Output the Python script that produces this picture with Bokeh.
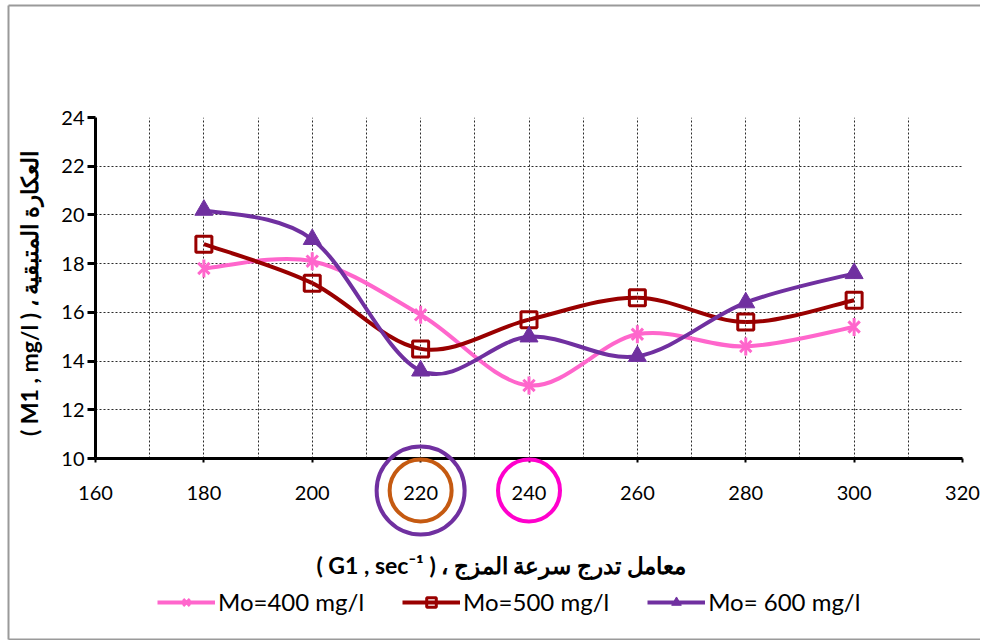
import math
from bokeh.plotting import figure
from bokeh.models import (LinearAxis, SingleIntervalTicker, Legend, LegendItem, Grid,
                          ColumnDataSource, Range1d, GridBox)
from bokeh.embed import file_html
from bokeh.resources import INLINE

# ---------------- data ----------------
g_values = [180, 200, 220, 240, 260, 280, 300]
mo400 = [17.8, 18.1, 15.9, 13.0, 15.1, 14.6, 15.4]
mo500 = [18.8, 17.2, 14.5, 15.7, 16.6, 15.6, 16.5]
mo600 = [20.2, 19.0, 13.6, 15.0, 14.2, 16.4, 17.6]
series_names = ["Mo=400 mg/l", "Mo=500 mg/l", "Mo= 600 mg/l"]
highlight_ticks = [220, 220, 240]

x_label = "( G1 , sec\u207b\u00b9 )   \u060c   معامل تدرج سرعة المزج" + "\u00a0" * 6
y_label = "( M1 , mg/l )  \u060c  العكارة المتبقية"

# ---------------- layout constants ----------------
W, H = 980, 640
BL, BR, BT, BB = 95, 18, 117, 182
X0, X1, Y0, Y1 = 160, 320, 10, 24


def smooth_segments(xs, ys):
    """Bezier control points (Catmull-Rom style) through the data points."""
    n = len(xs)
    px = [xs[0]] + list(xs) + [xs[-1]]
    py = [ys[0]] + list(ys) + [ys[-1]]
    d = dict(x0=[], y0=[], x1=[], y1=[], cx0=[], cy0=[], cx1=[], cy1=[])
    for i in range(n - 1):
        a, b, c, e = i, i + 1, i + 2, i + 3
        d["x0"].append(px[b]); d["y0"].append(py[b])
        d["x1"].append(px[c]); d["y1"].append(py[c])
        d["cx0"].append(px[b] + (px[c] - px[a]) / 6.0)
        d["cy0"].append(py[b] + (py[c] - py[a]) / 6.0)
        d["cx1"].append(px[c] - (px[e] - px[b]) / 6.0)
        d["cy1"].append(py[c] - (py[e] - py[b]) / 6.0)
    return ColumnDataSource(d)


p = figure(width=W, height=H, output_backend="svg", toolbar_location=None,
           x_range=Range1d(X0, X1), y_range=Range1d(Y0, Y1),
           x_axis_type=None, y_axis_type=None,
           min_border_left=BL, min_border_right=BR, min_border_top=BT, min_border_bottom=BB)
p.frame_align = False
p.outline_line_color = None
p.background_fill_color = "white"
p.border_fill_color = "white"

tick_font = "Lato"

xaxis = LinearAxis(ticker=SingleIntervalTicker(interval=20))
xaxis.axis_line_width = 3
xaxis.axis_line_color = "black"
xaxis.major_tick_line_width = 2
xaxis.major_tick_out = 4
xaxis.major_tick_in = 0
xaxis.minor_tick_line_color = None
xaxis.major_label_text_font = tick_font
xaxis.major_label_text_font_size = "20px"
xaxis.major_label_text_color = "black"
xaxis.major_label_standoff = 23
xaxis.axis_label = x_label
xaxis.axis_label_text_font = tick_font
xaxis.axis_label_text_font_style = "bold"
xaxis.axis_label_text_font_size = "23px"
xaxis.axis_label_text_color = "black"
xaxis.axis_label_standoff = 48
p.add_layout(xaxis, "below")

yaxis = LinearAxis(ticker=SingleIntervalTicker(interval=2))
yaxis.axis_line_width = 3
yaxis.axis_line_color = "black"
yaxis.major_tick_line_width = 3
yaxis.major_tick_out = 8
yaxis.major_tick_in = 0
yaxis.minor_tick_line_color = None
yaxis.major_label_text_font = tick_font
yaxis.major_label_text_font_size = "20px"
yaxis.major_label_text_color = "black"
yaxis.major_label_standoff = 3
yaxis.axis_label = y_label
yaxis.axis_label_text_font = tick_font
yaxis.axis_label_text_font_style = "bold"
yaxis.axis_label_text_font_size = "23px"
yaxis.axis_label_text_color = "black"
yaxis.axis_label_standoff = 15
p.add_layout(yaxis, "left")

xgrid = Grid(dimension=0, ticker=SingleIntervalTicker(interval=10))
ygrid = Grid(dimension=1, ticker=SingleIntervalTicker(interval=2))
for g in (xgrid, ygrid):
    g.grid_line_color = "#2a2a2a"
    g.grid_line_dash = "2 2"
    g.grid_line_width = 1
    p.add_layout(g)

colors = ["#FF66CC", "#990000", "#7030A0"]
series = [mo400, mo500, mo600]


def add_markers(fig, xs, ys, kind, col):
    rs = []
    if kind == 0:
        rs.append(fig.scatter(xs, ys, marker="x", size=16, line_color=col, line_width=3))
        rs.append(fig.scatter(xs, ys, marker="dash", angle=math.pi / 2, size=18,
                              line_color=col, line_width=3))
    elif kind == 1:
        rs.append(fig.scatter(xs, ys, marker="square", size=16, line_color=col, line_width=3,
                              fill_color=None))
    else:
        rs.append(fig.scatter(xs, ys, marker="triangle", size=18, line_color=col,
                              fill_color=col, line_width=1))
    return rs


for k, (ys, col) in enumerate(zip(series, colors)):
    src = smooth_segments(g_values, ys)
    p.bezier(x0="x0", y0="y0", x1="x1", y1="y1", cx0="cx0", cy0="cy0", cx1="cx1", cy1="cy1",
             source=src, line_color=col, line_width=4)
    add_markers(p, g_values, ys, k, col)

# ---------------- transparent overlay (same scale, whole canvas) ----------------
sx = (X1 - X0) / (W - BL - BR)
sy = (Y1 - Y0) / (H - BT - BB)
q = figure(width=W, height=H, output_backend="svg", toolbar_location=None,
           x_range=Range1d(X0 - BL * sx, X1 + BR * sx),
           y_range=Range1d(Y0 - BB * sy, Y1 + BT * sy),
           x_axis_type=None, y_axis_type=None,
           min_border_left=0, min_border_right=0, min_border_top=0, min_border_bottom=0)
q.frame_align = False
q.outline_line_color = None
q.background_fill_alpha = 0
q.border_fill_alpha = 0

# chart-area border (left, top and bottom edges)
bx0 = X0 - (BL - 8) * sx
bx1 = X1 + (BR + 20) * sx
by_top = Y1 + (BT - 5) * sy
by_bot = Y0 - (BB - 1) * sy
q.segment(x0=[bx0, bx0, bx0], y0=[by_bot, by_top, by_bot],
          x1=[bx0, bx1, bx1], y1=[by_top, by_top, by_bot],
          line_color="#9a9a9a", line_width=2)

# highlight rings round the 220 and 240 tick labels
ring_colors = ["#7030A0", "#C55A11", "#FF00CC"]
ring_sizes = [88, 62, 62]
ring_drop_px = 32
q.scatter(x=highlight_ticks, y=[Y0 - ring_drop_px * sy] * 3, marker="circle",
          size=ring_sizes, fill_color=None, line_color=ring_colors, line_width=4)

# legend (proxy renderers share the series styles)
nan = [float("nan")]
items = []
for k, (name, col) in enumerate(zip(series_names, colors)):
    lr = q.line(nan, nan, line_color=col, line_width=4)
    mrs = add_markers(q, nan, nan, k, col)
    items.append(LegendItem(label=name, renderers=[lr] + mrs))

legend = Legend(items=items, orientation="horizontal", location=(157, 24),
                label_text_font=tick_font, label_text_font_size="24px",
                label_text_color="black", glyph_width=58, glyph_height=24,
                spacing=38, padding=0, margin=0, border_line_color=None,
                label_standoff=3, background_fill_alpha=0, label_height=24)
q.add_layout(legend)

layout = GridBox(children=[(p, 0, 0), (q, 0, 0)])
open("out.html", "w").write(file_html(layout, INLINE))
